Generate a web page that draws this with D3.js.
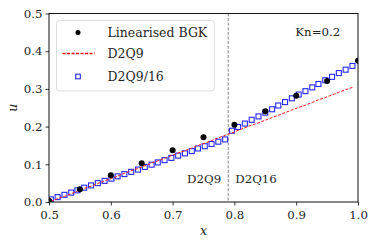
<!DOCTYPE html>
<html>
<head>
<meta charset="utf-8">
<script src="https://cdn.jsdelivr.net/npm/d3@7/dist/d3.min.js"></script>
<style>
  body { margin: 0; background: #fff; }
</style>
</head>
<body>
<div id="chart"></div>
<script>
// Linearised BGK reference points
const bgkX = [0.5, 0.55, 0.6, 0.65, 0.7, 0.75, 0.8, 0.85, 0.9, 0.95, 1.0]
const bgkU = [0.003, 0.034, 0.071, 0.103, 0.137, 0.172, 0.205, 0.241, 0.282, 0.321, 0.375]

// lattice node positions shared by both LBM runs
const nodeX = [0.503, 0.514, 0.525, 0.536, 0.546, 0.557, 0.568, 0.579, 0.590, 0.601,
  0.611, 0.622, 0.633, 0.644, 0.655, 0.666, 0.676, 0.687, 0.698, 0.709,
  0.720, 0.731, 0.741, 0.752, 0.763, 0.774, 0.785, 0.796, 0.806, 0.817,
  0.828, 0.839, 0.850, 0.861, 0.871, 0.882, 0.893, 0.904, 0.915, 0.926,
  0.936, 0.947, 0.958, 0.969, 0.980, 0.991]

const d2q9U = [0.002, 0.009, 0.015, 0.022, 0.029, 0.036, 0.042, 0.049, 0.056, 0.062,
  0.069, 0.076, 0.083, 0.089, 0.096, 0.103, 0.109, 0.116, 0.123, 0.130,
  0.136, 0.143, 0.150, 0.156, 0.163, 0.170, 0.177, 0.183, 0.190, 0.197,
  0.204, 0.210, 0.217, 0.224, 0.230, 0.237, 0.244, 0.251, 0.257, 0.264,
  0.271, 0.277, 0.284, 0.291, 0.298, 0.304]

const hybridU = [0.007, 0.013, 0.019, 0.025, 0.031, 0.038, 0.044, 0.050, 0.056, 0.062,
  0.068, 0.074, 0.080, 0.086, 0.093, 0.099, 0.105, 0.111, 0.117, 0.123,
  0.129, 0.135, 0.142, 0.148, 0.154, 0.160, 0.166, 0.189, 0.199, 0.208,
  0.218, 0.227, 0.237, 0.246, 0.256, 0.265, 0.275, 0.285, 0.294, 0.304,
  0.313, 0.323, 0.332, 0.342, 0.351, 0.361]

const xTicks = [0.5, 0.6, 0.7, 0.8, 0.9, 1.0]
const yTicks = [0.0, 0.1, 0.2, 0.3, 0.4, 0.5]
const interfaceX = 0.79

const legendItems = ['Linearised BGK', 'D2Q9', 'D2Q9/16']

const serif = '"DejaVu Serif", "Liberation Serif", serif'
const txtColor = '#262626'

const dims = {
  width: 374,
  height: 246,
  margin: { left: 49, right: 16, top: 13.5, bottom: 44 }
}
dims.ctrWidth = dims.width - dims.margin.left - dims.margin.right
dims.ctrHeight = dims.height - dims.margin.top - dims.margin.bottom

const xScale = d3.scaleLinear().domain([0.5, 1.0]).range([0, dims.ctrWidth])
const yScale = d3.scaleLinear().domain([0, 0.5]).range([dims.ctrHeight, 0])

const svg = d3.select('#chart')
  .append('svg')
  .attr('width', dims.width)
  .attr('height', dims.height)
  .attr('font-family', serif)

const ctr = svg.append('g')
  .attr('transform', `translate(${dims.margin.left},${dims.margin.top})`)

svg.append('defs').append('clipPath').attr('id', 'plotclip')
  .append('rect')
  .attr('width', dims.ctrWidth)
  .attr('height', dims.ctrHeight)

// axes
const xAxis = d3.axisBottom(xScale).tickValues(xTicks).tickFormat(d3.format('.1f')).tickSize(3.5).tickPadding(3)
const yAxis = d3.axisLeft(yScale).tickValues(yTicks).tickFormat(d3.format('.1f')).tickSize(3.5).tickPadding(3)

const xg = ctr.append('g').attr('transform', `translate(0,${dims.ctrHeight})`).call(xAxis)
const yg = ctr.append('g').call(yAxis)
;[xg, yg].forEach(g => {
  g.attr('font-family', serif).attr('font-size', 11.8)
  g.select('.domain').remove()
  g.selectAll('line').attr('stroke', '#000').attr('stroke-width', 0.8)
  g.selectAll('text').attr('fill', txtColor)
})
xg.selectAll('text').attr('dy', '0.85em')

const plot = ctr.append('g').attr('clip-path', 'url(#plotclip)')

// interface between the two lattices
plot.append('line')
  .attr('x1', xScale(interfaceX)).attr('x2', xScale(interfaceX))
  .attr('y1', 0).attr('y2', dims.ctrHeight)
  .attr('stroke', '#666')
  .attr('stroke-width', 0.8)
  .attr('stroke-dasharray', '3,1.6')

// D2Q9/16 squares
const sq = 5
plot.selectAll('rect.hyb')
  .data(nodeX)
  .join('rect')
  .attr('class', 'hyb')
  .attr('x', (d) => xScale(d) - sq / 2)
  .attr('y', (d, i) => yScale(hybridU[i]) - sq / 2)
  .attr('width', sq)
  .attr('height', sq)
  .attr('fill', 'none')
  .attr('stroke', '#2626ff')
  .attr('stroke-width', 1.1)

// D2Q9 dashed
const line = d3.line().x((d) => xScale(d[0])).y((d) => yScale(d[1]))
plot.append('path')
  .datum(nodeX.map((d, i) => [d, d2q9U[i]]))
  .attr('d', line)
  .attr('fill', 'none')
  .attr('stroke', '#ff1a1a')
  .attr('stroke-width', 1)
  .attr('stroke-dasharray', '3,1.5')

// BGK dots
plot.selectAll('circle.bgk')
  .data(bgkX)
  .join('circle')
  .attr('class', 'bgk')
  .attr('cx', (d) => xScale(d))
  .attr('cy', (d, i) => yScale(bgkU[i]))
  .attr('r', 3)
  .attr('fill', '#000')

// frame
ctr.append('rect')
  .attr('width', dims.ctrWidth)
  .attr('height', dims.ctrHeight)
  .attr('fill', 'none')
  .attr('stroke', '#111')
  .attr('stroke-width', 1)

// labels
svg.append('text')
  .attr('x', dims.margin.left + dims.ctrWidth / 2)
  .attr('y', 235)
  .attr('text-anchor', 'middle')
  .attr('font-size', 12.5)
  .attr('font-style', 'italic')
  .attr('fill', txtColor)
  .text('x')

svg.append('text')
  .attr('transform', `translate(17,${dims.margin.top + dims.ctrHeight / 2}) rotate(-90)`)
  .attr('text-anchor', 'middle')
  .attr('font-size', 12.5)
  .attr('font-style', 'italic')
  .attr('fill', txtColor)
  .text('u')

const note = (x, y, anchor, s) => ctr.append('text')
  .attr('x', x).attr('y', y)
  .attr('text-anchor', anchor)
  .attr('font-size', 11.8)
  .attr('fill', txtColor)
  .text(s)

note(xScale(0.935), 22, 'middle', 'Kn=0.2')
note(xScale(interfaceX) - 7, 169.5, 'end', 'D2Q9')
note(xScale(interfaceX) + 7, 169.5, 'start', 'D2Q16')

// legend
const lg = svg.append('g').attr('transform', 'translate(56.5,20.5)')
lg.append('rect')
  .attr('width', 158)
  .attr('height', 70.5)
  .attr('rx', 3)
  .attr('fill', 'rgba(255,255,255,0.8)')
  .attr('stroke', '#d4d4d4')
  .attr('stroke-width', 0.8)

const rowY = [12, 33, 56]
lg.append('circle').attr('cx', 21.5).attr('cy', rowY[0]).attr('r', 2.5).attr('fill', '#000')
lg.append('line')
  .attr('x1', 6).attr('x2', 38).attr('y1', rowY[1]).attr('y2', rowY[1])
  .attr('stroke', '#ff0000').attr('stroke-width', 1.3).attr('stroke-dasharray', '3,1.5')
lg.append('rect')
  .attr('x', 21.5 - 2.3).attr('y', rowY[2] - 2.3).attr('width', 4.6).attr('height', 4.6)
  .attr('fill', 'none').attr('stroke', '#2626ff').attr('stroke-width', 1.1)

lg.selectAll('text.leg')
  .data(legendItems)
  .join('text')
  .attr('class', 'leg')
  .attr('x', 51)
  .attr('y', (d, i) => rowY[i] + 4.5)
  .attr('font-size', 12.5)
  .attr('fill', txtColor)
  .text((d) => d)
</script>
</body>
</html>
